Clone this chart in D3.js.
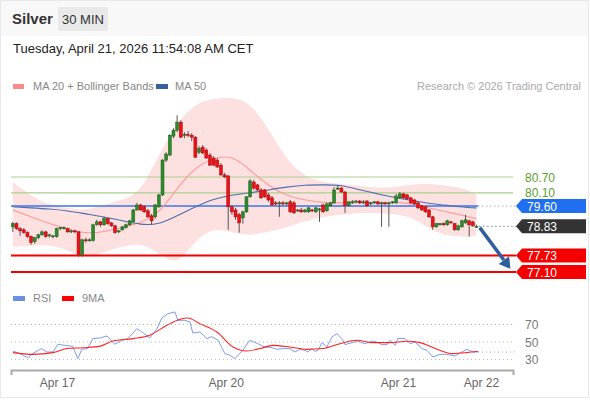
<!DOCTYPE html>
<html><head><meta charset="utf-8">
<script src="https://cdn.jsdelivr.net/npm/d3@7"></script>
<style>body{margin:0;background:#fff}svg{display:block;font-family:"Liberation Sans",Arial,sans-serif}</style>
</head><body><svg id="c" width="590" height="400"></svg>
<script>
// ---------- DATA ----------
const candleOpen = [78.81,78.93,78.74,78.70,78.59,78.44,78.25,78.40,78.51,78.62,
78.47,78.44,78.44,78.74,78.74,78.74,78.62,78.66,78.62,77.76,
78.32,78.29,78.29,78.89,79.00,78.89,79.12,78.96,78.85,78.62,
78.70,78.78,78.89,79.00,79.45,79.64,79.57,79.42,79.23,79.19,
79.57,80.02,81.34,81.53,82.25,82.47,82.78,82.28,82.32,82.28,
82.21,81.64,81.83,81.72,81.53,81.42,81.34,81.15,80.78,80.74,
79.57,79.45,79.27,79.15,79.38,79.95,80.51,80.40,80.21,80.21,
80.02,79.91,79.72,79.68,79.72,79.68,79.76,79.72,79.42,79.45,
79.38,79.38,79.45,79.38,79.45,79.64,79.42,79.61,79.72,80.25,
80.28,80.13,79.61,79.72,79.76,79.79,79.72,79.79,79.68,79.72,
79.76,79.68,79.72,79.68,79.72,79.72,79.91,80.06,80.02,79.91,
79.83,79.72,79.61,79.57,79.45,79.19,78.81,78.89,78.93,78.89,
79.00,78.93,78.70,78.81,78.96,79.04,79.00,78.81];
const candleHigh = [79.00,78.98,78.80,78.76,78.64,78.48,78.42,78.55,78.68,78.66,
78.55,78.51,78.78,78.81,78.83,78.78,78.70,78.70,78.66,78.36,
78.40,78.38,78.93,79.08,79.04,79.19,79.15,79.00,78.89,78.70,
78.85,78.93,79.08,79.49,79.72,79.68,79.64,79.49,79.30,79.68,
80.06,81.38,81.64,82.32,82.55,83.04,82.85,82.40,82.44,82.36,
82.25,81.87,81.91,81.79,81.61,81.49,81.42,81.23,80.85,80.78,
79.64,79.53,79.34,79.42,79.98,80.62,80.59,80.44,80.28,80.25,
80.10,79.98,79.79,79.79,79.79,79.76,79.83,79.79,79.49,79.53,
79.49,79.57,79.49,79.57,79.53,79.68,79.72,79.76,80.32,80.36,
80.32,80.17,79.79,79.83,79.83,79.83,79.83,79.83,79.76,79.79,
79.79,79.76,79.76,79.76,79.79,80.06,80.13,80.10,80.06,79.95,
79.87,79.76,79.64,79.61,79.49,79.23,78.96,78.96,78.98,79.08,
79.04,78.96,78.89,79.08,79.27,79.08,79.04,78.89];
const candleLow = [78.62,78.70,78.47,78.55,78.40,78.13,78.17,78.34,78.47,78.40,
78.40,78.38,78.40,78.68,78.70,78.59,78.57,78.57,77.68,77.68,
78.21,78.25,78.25,78.85,78.81,78.85,78.89,78.81,78.55,78.57,
78.66,78.74,78.85,78.96,79.42,79.42,79.34,79.15,78.89,79.12,
79.53,79.98,81.27,81.49,82.17,82.40,82.17,82.17,82.21,82.06,
81.42,81.57,81.57,81.38,81.12,81.12,81.04,80.74,80.66,78.70,
79.27,79.08,78.59,78.93,79.34,79.91,80.21,80.17,79.87,79.91,
79.76,79.61,79.61,79.19,79.61,79.61,79.34,79.30,79.38,79.34,
79.34,79.34,79.38,79.34,79.00,79.34,79.38,79.57,79.68,80.21,
80.10,79.34,79.57,79.68,79.72,79.68,79.68,79.57,79.64,79.68,
79.64,78.81,79.64,78.81,79.68,79.68,79.87,79.87,79.83,79.68,
79.64,79.49,79.42,79.34,79.15,78.70,78.78,78.85,78.85,78.85,
78.93,78.66,78.66,78.78,78.93,78.44,78.81,78.78];
const candleClose = [78.93,78.74,78.66,78.59,78.44,78.21,78.40,78.51,78.62,78.44,
78.51,78.47,78.74,78.78,78.78,78.62,78.66,78.62,77.76,78.32,
78.29,78.32,78.89,79.00,78.89,79.12,78.93,78.85,78.59,78.66,
78.81,78.89,79.04,79.45,79.64,79.45,79.38,79.19,79.04,79.64,
80.02,81.34,81.57,82.28,82.47,82.78,82.21,82.32,82.28,82.21,
81.45,81.79,81.61,81.42,81.15,81.15,81.08,80.78,80.70,79.57,
79.38,79.19,78.96,79.38,79.95,80.55,80.28,80.21,79.91,79.95,
79.83,79.64,79.68,79.72,79.68,79.72,79.38,79.34,79.45,79.38,
79.45,79.53,79.42,79.53,79.49,79.38,79.68,79.72,80.21,80.28,
80.13,79.61,79.76,79.76,79.79,79.72,79.76,79.61,79.72,79.76,
79.68,79.72,79.68,79.72,79.76,79.98,80.06,79.91,79.87,79.72,
79.68,79.53,79.45,79.38,79.19,78.81,78.93,78.93,78.89,79.04,
78.96,78.70,78.85,79.04,79.08,78.89,78.85,78.83];

// indicator samples (candle index -> value)
const maIdx    = [0,5,10,15,20,25,30,35,40,45,50,55,60,65,70,75,80,85,90,95,100,105,110,115,120,125,127];
const ma20     = [79.45,79.19,78.93,78.74,78.55,78.62,78.78,78.96,79.30,80.28,81.08,81.42,81.53,80.96,80.36,79.98,79.83,79.72,79.72,79.72,79.72,79.76,79.68,79.49,79.34,79.19,79.12];
const ma50     = [79.57,79.53,79.49,79.42,79.30,79.19,79.04,78.89,78.89,79.23,79.57,79.87,80.02,80.10,80.21,80.32,80.40,80.40,80.40,80.21,80.06,79.91,79.79,79.68,79.61,79.53,79.53];
const bbUpper  = [80.51,79.98,79.64,79.53,79.42,79.64,79.83,80.13,81.53,82.78,83.49,83.68,83.72,83.53,82.55,81.34,80.70,80.51,80.44,80.36,80.28,80.32,80.44,80.44,80.36,80.21,80.02];
const bbLower  = [78.06,78.10,78.13,77.95,77.57,77.87,78.06,78.21,77.83,77.30,78.32,78.78,78.59,78.47,78.62,78.78,79.04,79.19,79.27,79.34,79.34,79.30,79.15,78.62,78.44,78.44,78.47];

const rsiIdx = [0,1.9,4.1,5.5,7.9,9.3,11,12.3,14.2,16.4,17.8,18.9,20.5,21.9,23.8,25.8,27.9,29.9,31.5,34,35.6,37.5,39.5,40.8,42.5,44.4,45.2,47.1,48.5,49.3,51.2,53.2,54.5,56.2,58.1,59.5,60.8,63,64.9,67.1,69,71,72.3,74,75.9,77.3,78.6,80,80.8,81.9,82.7,83.6,84.7,86,87.4,88.8,90.1,91,92.9,94.5,96.4,98.4,99.7,101.1,102.5,103.3,104.7,105.5,107.4,108.8,110.1,112.1,113.4,115.1,117,118.9,121.1,123,124.4,126,127.4];
const rsiVal = [39.7,36.7,32,37,42.5,38.6,38.6,47.4,46.2,45,31,41.6,42.5,53.9,54.6,56.9,47.4,52,53.9,65.3,60.7,54.6,65.3,77.4,82.4,84.3,74.8,74.8,72.9,60.3,61.4,53.9,56.2,52,36.7,34.8,31,40.5,52,48.1,44.3,43.5,41.6,42.5,42.5,38.6,41.6,40.5,38.6,42.5,39.4,40.5,49.3,44.3,55.7,59.6,53.9,47,49.3,51.1,48,51.1,50,47,47,52,46.2,54.2,53.9,48,50,42.5,40.5,32.9,35.9,35.9,34,38.6,41.6,38.6,38.6];
const rsiMaIdx = [0,5.5,11,14.8,19.2,23.8,27.4,32.9,37.5,42.2,45.8,47.9,51.2,55.9,60.3,64.1,67.7,71.2,75.9,80.5,84.9,89.6,94.2,98.6,103.3,107.9,111.5,116.2,120.5,124.4,127.4];
const rsiMa    = [37.9,35.9,37.9,42.5,43.5,45,51.1,53.9,57.7,69.1,76,77.4,71,61.4,44.3,39.7,42.5,46.2,44.3,41.6,42.5,48,52,49.3,49.3,50.8,49.3,41.6,36.7,37.9,39.4];
const rsiLevels = [70,50,30];

const levelValues = [80.70,80.10,79.60,78.83,77.73,77.10];
const levelLabels = ["80.70","80.10","79.60","78.83","77.73","77.10"];
const levelKinds  = ["res","res","pivot","last","sup","sup"];
const targetIdx = 136.3, targetPrice = 77.22;

const dateTicks  = [12.1,58.3,105.5,128.2];
const dateLabels = ["Apr 17","Apr 20","Apr 21","Apr 22"];

// ---------- DRAW ----------
const svg = d3.select('#c');
const x  = d3.scaleLinear().domain([-0.5,137]).range([11,513]);
const y  = d3.scaleLinear().domain([77.10,80.70]).range([272,177]);
const yr = d3.scaleLinear().domain([30,70]).range([359.5,324.5]);

svg.append('rect').attr('width',590).attr('height',400).attr('fill','#fff');
svg.append('rect').attr('x',0).attr('y',0).attr('width',588).attr('height',36).attr('fill','#f8f8f8');
svg.append('rect').attr('x',0.5).attr('y',0.5).attr('width',588).attr('height',397).attr('fill','none').attr('stroke','#e8e8e8');

// header
svg.append('text').attr('x',12).attr('y',24).attr('font-size',15).attr('font-weight','bold').attr('fill','#333').text('Silver');
svg.append('rect').attr('x',58).attr('y',7).attr('width',50).attr('height',24).attr('rx',2).attr('fill','#e9e9e9');
svg.append('text').attr('x',83).attr('y',24).attr('text-anchor','middle').attr('font-size',13).attr('fill','#333').text('30 MIN');
svg.append('text').attr('x',13).attr('y',53).attr('font-size',13).attr('fill','#222').text('Tuesday, April 21, 2026 11:54:08 AM CET');

// legend
svg.append('rect').attr('x',13).attr('y',84).attr('width',11).attr('height',5).attr('fill','#f88');
svg.append('text').attr('x',33).attr('y',90).attr('font-size',11).attr('fill','#888').text('MA 20 + Bollinger Bands');
svg.append('rect').attr('x',156).attr('y',84).attr('width',12).attr('height',5).attr('fill','#3a5f9e');
svg.append('text').attr('x',175).attr('y',90).attr('font-size',11).attr('fill','#888').text('MA 50');
svg.append('text').attr('x',581).attr('y',90).attr('text-anchor','end').attr('font-size',11).attr('fill','#aaa').text('Research \u00a9 2026 Trading Central');

// bollinger band
const bandData = maIdx.map((d,i)=>({i:d,hi:bbUpper[i],lo:bbLower[i],m20:ma20[i],m50:ma50[i]}));
svg.append('path').datum(bandData)
  .attr('d', d3.area().x(d=>x(d.i)).y0(d=>y(d.lo)).y1(d=>y(d.hi)).curve(d3.curveBasis))
  .attr('fill','#fde1e1');

// horizontal levels
const lastIdx = candleClose.length-1;
levelValues.forEach((v,k)=>{
  const kind = levelKinds[k], yy = y(v);
  if(kind==='res'){
    svg.append('line').attr('x1',11).attr('x2',513).attr('y1',yy).attr('y2',yy).attr('stroke','#a9d18e').attr('stroke-width',1.2);
    svg.append('text').attr('x',525).attr('y',yy+4.5).attr('font-size',12).attr('fill','#5a9e2f').text(levelLabels[k]);
  } else if(kind==='pivot'){
    svg.append('line').attr('x1',11).attr('x2',x(lastIdx+0.5)).attr('y1',yy).attr('y2',yy).attr('stroke','#3b74ea').attr('stroke-width',1.6);
    svg.append('line').attr('x1',x(lastIdx+0.5)).attr('x2',516).attr('y1',yy).attr('y2',yy).attr('stroke','#7a8fb8').attr('stroke-dasharray','1,3');
  } else if(kind==='last'){
    svg.append('line').attr('x1',x(lastIdx+0.8)).attr('x2',516).attr('y1',yy).attr('y2',yy).attr('stroke','#444').attr('stroke-dasharray','1,3');
  } else {
    svg.append('line').attr('x1',11).attr('x2',516).attr('y1',yy).attr('y2',yy).attr('stroke','#f20000').attr('stroke-width',2);
  }
  if(kind!=='res'){
    const col = kind==='pivot' ? '#1f6ff0' : kind==='last' ? '#333' : '#f40000';
    svg.append('path').attr('d',`M516,${yy} L522,${yy-7} H586 V${yy+7} H522 Z`).attr('fill',col);
    svg.append('text').attr('x',527).attr('y',yy+4.5).attr('font-size',12).attr('fill','#fff').text(levelLabels[k]);
  }
});

// moving averages
svg.append('path').datum(bandData).attr('d',d3.line().x(d=>x(d.i)).y(d=>y(d.m20)).curve(d3.curveBasis))
  .attr('fill','none').attr('stroke','#f99').attr('stroke-width',1.1);
svg.append('path').datum(bandData).attr('d',d3.line().x(d=>x(d.i)).y(d=>y(d.m50)).curve(d3.curveBasis))
  .attr('fill','none').attr('stroke','#4a6fae').attr('stroke-width',1.1);

// candles
const candles = candleClose.map((c,i)=>({i,o:candleOpen[i],h:candleHigh[i],l:candleLow[i],c}));
const cg = svg.append('g');
cg.selectAll('line.w').data(candles).join('line')
  .attr('x1',d=>x(d.i)).attr('x2',d=>x(d.i)).attr('y1',d=>y(d.h)).attr('y2',d=>y(d.l))
  .attr('stroke','#555').attr('stroke-width',1);
cg.selectAll('rect').data(candles).join('rect')
  .attr('x',d=>x(d.i)-1.5).attr('width',3)
  .attr('y',d=>y(Math.max(d.o,d.c)))
  .attr('height',d=>Math.max(1,Math.abs(y(d.o)-y(d.c))))
  .attr('fill',d=>d.c>=d.o?'#2c8c2c':'#e8141c')
  .attr('stroke',d=>d.c>=d.o?'#1d5e1d':'#b30000').attr('stroke-width',0.5);

// target arrow
const ax0 = x(lastIdx+0.9), ay0 = y(candleClose[lastIdx]-0.05);
const ax1 = x(targetIdx), ay1 = y(targetPrice);
const ang = Math.atan2(ay1-ay0, ax1-ax0);
const hl = 11, hw = 6.5;
const bx = ax1 - hl*Math.cos(ang), by = ay1 - hl*Math.sin(ang);
svg.append('line').attr('x1',ax0).attr('y1',ay0).attr('x2',bx).attr('y2',by).attr('stroke','#2f5d9e').attr('stroke-width',3.5);
svg.append('path').attr('d',`M${ax1},${ay1} L${bx - hw*Math.sin(ang)},${by + hw*Math.cos(ang)} L${bx + hw*Math.sin(ang)},${by - hw*Math.cos(ang)} Z`).attr('fill','#2f5d9e');

// RSI panel
svg.append('rect').attr('x',13).attr('y',296).attr('width',12).attr('height',5).attr('fill','#6b8fe8');
svg.append('text').attr('x',33).attr('y',302).attr('font-size',11).attr('fill','#888').text('RSI');
svg.append('rect').attr('x',62).attr('y',296).attr('width',12).attr('height',5).attr('fill','#f00');
svg.append('text').attr('x',82).attr('y',302).attr('font-size',11).attr('fill','#888').text('9MA');

rsiLevels.forEach(v=>{
  svg.append('line').attr('x1',11).attr('x2',513).attr('y1',yr(v)).attr('y2',yr(v)).attr('stroke','#bbb').attr('stroke-dasharray','1,3');
  svg.append('text').attr('x',525).attr('y',yr(v)+4.5).attr('font-size',12).attr('fill','#777').text(v);
});
const rsiData = rsiIdx.map((d,i)=>({i:d,v:rsiVal[i]}));
const rsiMaData = rsiMaIdx.map((d,i)=>({i:d,v:rsiMa[i]}));
svg.append('line').attr('x1',x(rsiIdx[rsiIdx.length-1])).attr('x2',516)
  .attr('y1',yr(rsiVal[rsiVal.length-1])).attr('y2',yr(rsiVal[rsiVal.length-1]))
  .attr('stroke','#8aa6ee').attr('stroke-dasharray','1,3');
svg.append('path').datum(rsiData).attr('d',d3.line().x(d=>x(d.i)).y(d=>yr(d.v)))
  .attr('fill','none').attr('stroke','#7b9cec').attr('stroke-width',1);
svg.append('path').datum(rsiMaData).attr('d',d3.line().x(d=>x(d.i)).y(d=>yr(d.v)).curve(d3.curveMonotoneX))
  .attr('fill','none').attr('stroke','#f22').attr('stroke-width',1.1);

// x axis
const xa = svg.append('g').attr('transform','translate(0,370)')
  .call(d3.axisBottom(x).tickValues(dateTicks).tickFormat((d,i)=>dateLabels[i]).tickSizeInner(0).tickSizeOuter(5).tickPadding(8));
xa.select('.domain').attr('stroke','#aaa').attr('stroke-width',2);
xa.selectAll('text').attr('font-size',12).attr('fill','#666').attr('font-family','"Liberation Sans",Arial,sans-serif');
</script></body></html>
